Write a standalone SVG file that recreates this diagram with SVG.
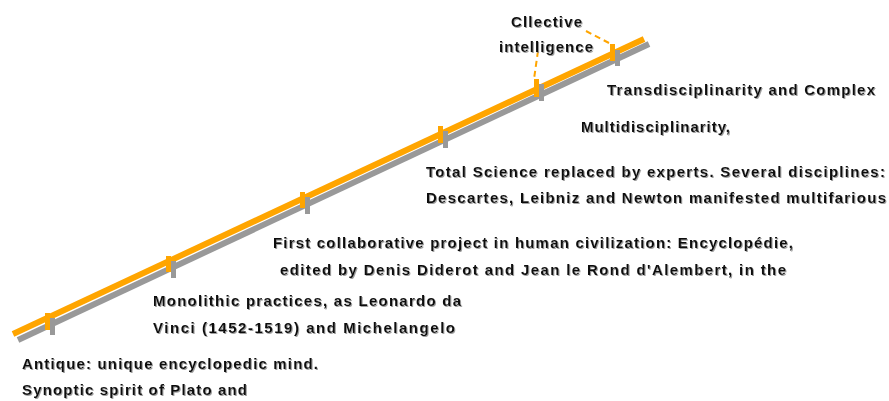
<svg xmlns="http://www.w3.org/2000/svg" width="889" height="401" viewBox="0 0 889 401">
<defs>
<filter id="sh" x="-5%" y="-30%" width="110%" height="160%">
<feDropShadow dx="1" dy="1" stdDeviation="0.4" flood-color="#888" flood-opacity="0.8"/>
</filter>
<style>
.t{font-family:"Liberation Sans",Arial,sans-serif;font-size:15px;font-weight:bold;fill:#111;filter:url(#sh)}
.g{stroke:#999;stroke-width:6;fill:none}
.o{stroke:#FFA500;stroke-width:6;fill:none}
.gt{fill:#999}
.ot{fill:#FFA500}
.d{stroke:#FFA500;stroke-width:2;stroke-dasharray:6 4;fill:none}
</style>
</defs>
<rect width="889" height="401" fill="#fff"/>
<g id="connectors">
<line class="g" x1="18" y1="340" x2="649" y2="44"/>
<line class="o" x1="13" y1="334" x2="644" y2="39"/>
<path class="d" d="M586 31 L609 43"/>
<path class="d" d="M538 51 L534 79"/>
</g>
<g id="tick1"><rect class="gt" x="50" y="318" width="5" height="17"/><rect class="ot" x="45" y="313" width="5" height="17"/></g>
<g id="tick2"><rect class="gt" x="171" y="261" width="5" height="17"/><rect class="ot" x="166" y="256" width="5" height="16"/></g>
<g id="tick3"><rect class="gt" x="305" y="197" width="5" height="17"/><rect class="ot" x="300" y="192" width="5" height="16"/></g>
<g id="tick4"><rect class="gt" x="443" y="131" width="5" height="17"/><rect class="ot" x="438" y="126" width="5" height="17"/></g>
<g id="tick5"><rect class="gt" x="539" y="84" width="5" height="17"/><rect class="ot" x="534" y="79" width="5" height="18"/></g>
<g id="tick6"><rect class="gt" x="615" y="50" width="5" height="16"/><rect class="ot" x="610" y="44" width="5" height="17"/></g>
<g id="label-collective">
<text class="t" x="511" y="27" textLength="71" lengthAdjust="spacing">Cllective</text>
<text class="t" x="499" y="52" textLength="94" lengthAdjust="spacing">intelligence</text>
</g>
<g id="label-trans">
<text class="t" x="607" y="95" textLength="268" lengthAdjust="spacing">Transdisciplinarity and Complex</text>
</g>
<g id="label-multi">
<text class="t" x="581" y="132" textLength="149" lengthAdjust="spacing">Multidisciplinarity,</text>
</g>
<g id="label-total">
<text class="t" x="426" y="177" textLength="459" lengthAdjust="spacing">Total Science replaced by experts. Several disciplines:</text>
<text class="t" x="426" y="203" textLength="460" lengthAdjust="spacing">Descartes, Leibniz and Newton manifested multifarious</text>
</g>
<g id="label-first">
<text class="t" x="273" y="248" textLength="520" lengthAdjust="spacing">First collaborative project in human civilization: Encyclopédie,</text>
<text class="t" x="280" y="275" textLength="506" lengthAdjust="spacing">edited by Denis Diderot and Jean le Rond d'Alembert, in the</text>
</g>
<g id="label-mono">
<text class="t" x="153" y="306" textLength="308" lengthAdjust="spacing">Monolithic practices, as Leonardo da</text>
<text class="t" x="153" y="333" textLength="302" lengthAdjust="spacing">Vinci (1452-1519) and Michelangelo</text>
</g>
<g id="label-antique">
<text class="t" x="22" y="369" textLength="296" lengthAdjust="spacing">Antique: unique encyclopedic mind.</text>
<text class="t" x="22" y="395" textLength="225" lengthAdjust="spacing">Synoptic spirit of Plato and</text>
</g>
</svg>
